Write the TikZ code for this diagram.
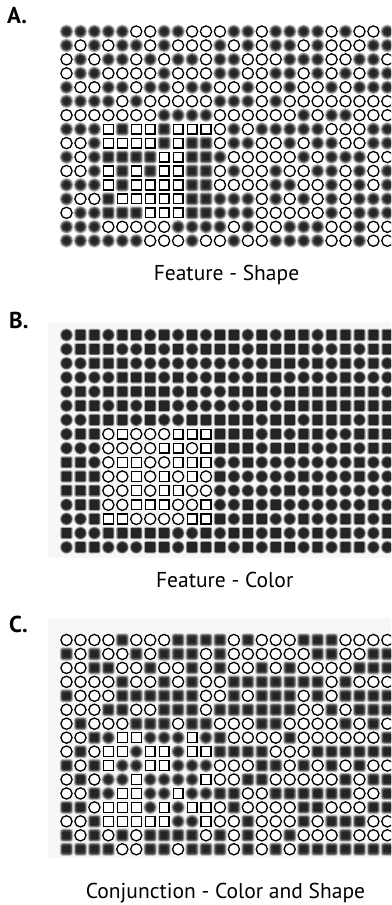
\documentclass[tikz,border=0pt]{standalone}
\usepackage{fontspec}
\setmainfont{PT Sans}
\newcount\gcol
\def\gx{0}\def\gy{0}
\newcommand\gridrow[2]{\global\gcol=0 \pgfmathsetmacro\gy{#1}\gridcells#2\relax}
\def\gridcells#1{\ifx#1\relax\else\gridcell#1\global\advance\gcol by 1 \expandafter\gridcells\fi}
\newcommand\gridcell[1]{\pgfmathsetmacro\gx{66.5+13.95*\the\gcol}\csname gcell@#1\endcsname}
% white circle
\expandafter\def\csname gcell@o\endcsname{%
  \filldraw[wshape] (\gx,\gy) circle[radius=5.6];}
% white square
\expandafter\def\csname gcell@s\endcsname{%
  \filldraw[wshape] (\gx-4.9,\gy-4.9) rectangle (\gx+4.9,\gy+4.9);}
% blurred dark circle
\expandafter\def\csname gcell@c\endcsname{%
  \fill[black!14] (\gx,\gy) circle[radius=7.1];
  \fill[black!40] (\gx,\gy) circle[radius=6.3];
  \fill[black!65] (\gx,\gy) circle[radius=5.5];
  \fill[black!80] (\gx,\gy) circle[radius=4.5];
  \fill[black!86] (\gx,\gy) circle[radius=3.2];}
% blurred dark square
\expandafter\def\csname gcell@q\endcsname{%
  \fill[black!14,rounded corners=3] (\gx-6.9,\gy-6.9) rectangle (\gx+6.9,\gy+6.9);
  \fill[black!40,rounded corners=2.5] (\gx-6.1,\gy-6.1) rectangle (\gx+6.1,\gy+6.1);
  \fill[black!65,rounded corners=2] (\gx-5.3,\gy-5.3) rectangle (\gx+5.3,\gy+5.3);
  \fill[black!80,rounded corners=1.5] (\gx-4.4,\gy-4.4) rectangle (\gx+4.4,\gy+4.4);
  \fill[black!86] (\gx-3.2,\gy-3.2) rectangle (\gx+3.2,\gy+3.2);}
% sharper dark circle (panel B)
\expandafter\def\csname gcell@C\endcsname{%
  \fill[black!22] (\gx,\gy) circle[radius=6.6];
  \fill[black!60] (\gx,\gy) circle[radius=5.9];
  \fill[black!86] (\gx,\gy) circle[radius=5.1];}
% sharper dark square (panel B)
\expandafter\def\csname gcell@Q\endcsname{%
  \fill[black!22,rounded corners=2] (\gx-6.3,\gy-6.3) rectangle (\gx+6.3,\gy+6.3);
  \fill[black!60,rounded corners=1.5] (\gx-5.6,\gy-5.6) rectangle (\gx+5.6,\gy+5.6);
  \fill[black!86] (\gx-4.8,\gy-4.8) rectangle (\gx+4.8,\gy+4.8);}
\tikzset{
  wshape/.style={fill=white,draw=black,line width=1.3pt},
  panellabel/.style={anchor=base west,inner sep=0pt,font=\bfseries\fontsize{23}{23}\selectfont},
  caption/.style={anchor=base,inner sep=0pt,font=\fontsize{21.5}{22}\selectfont}
}
\begin{document}
\begin{tikzpicture}[x=1pt,y=-1pt]
\useasboundingbox (0,0) rectangle (391,905);
\clip (0,0) rectangle (391,905);
\fill[white] (0,0) rectangle (391,905);
\fill[black!3] (48,322) rectangle (391,558);
\fill[black!3] (48,618) rectangle (391,858);
% ---------- Panel A ----------
\node[panellabel] (la) at (7,23) {A.};
\gridrow{31.5+13.95*0}{ccccco occooo ccoccc cocooc}
\gridrow{31.5+13.95*1}{cococc ocoooc ococco cooocc}
\gridrow{31.5+13.95*2}{ococco coccoc cooocc coocco}
\gridrow{31.5+13.95*3}{occooo ocoooc coocco cococc}
\gridrow{31.5+13.95*4}{coocco ccocco ocooco ococcc}
\gridrow{31.5+13.95*5}{ccccoc oooooc ccocoo oooooo}
\gridrow{31.5+13.95*6}{oooooo occcco oooooc occooo}
\gridrow{31.5+13.95*7}{cccsqs sqssso cocccc cooocc}
\gridrow{31.5+13.95*8}{oocsss sqsqqo ccooco ccoocc}
\gridrow{31.5+13.95*9}{cocqqq qssqqc oooooc occcoo}
\gridrow{31.5+13.95*10}{oocsqs qssqqo coocoo ccococ}
\gridrow{31.5+13.95*11}{cccsqs sssqqo ooocco ocococ}
\gridrow{31.5+13.95*12}{cooqss sssqqc ccococ ococcc}
\gridrow{31.5+13.95*13}{occqqq sssqqc ccoooo ococcc}
\gridrow{31.5+13.95*14}{cccooo oocccc ocoocc coocoo}
\gridrow{31.5+13.95*15}{cccccc ooocoo cooccc coocoo}
\node[caption] (ca) at (226.5,280) {Feature - Shape};
% ---------- Panel B ----------
\node[panellabel] (lb) at (9,328) {B.};
\gridrow{335+14.15*0}{CQQCQQ CQCQCQ QCQCQQ CQQQQQ}
\gridrow{335+14.15*1}{CQQQCC QCQCQQ QCQQQQ CCQCQQ}
\gridrow{335+14.15*2}{CCQQQC CCCCCC CCCQQC QCQCQC}
\gridrow{335+14.15*3}{CCCCQQ QCQCCQ CCQQCC CCQCCC}
\gridrow{335+14.15*4}{CQCQQQ QQCQCC QQQCQQ QQQQQC}
\gridrow{335+14.15*5}{CQQCQC QQCCCC CCQCQQ QQQQQQ}
\gridrow{335+14.15*6}{CCQQQC QCCQQQ QQCQQC QQQCQQ}
\gridrow{335+14.15*7}{CQQoso oosssQ QQCQCQ QCCQQQ}
\gridrow{335+14.15*8}{CCCooo ossosQ QQCQQQ CCQCQQ}
\gridrow{335+14.15*9}{QQCoss oosssC CQCCCC CCCQCC}
\gridrow{335+14.15*10}{QQQoos ososoQ CCCCCQ CCCQCC}
\gridrow{335+14.15*11}{QQQoos ossooC CCCCQC QCCCCC}
\gridrow{335+14.15*12}{CQQoos ssoosC CQCQCC CCCCQC}
\gridrow{335+14.15*13}{CCQsso ooossQ CQQCCQ CCQQCQ}
\gridrow{335+14.15*14}{QCCQQQ QQCCQC QQCQCC QCQCCQ}
\gridrow{335+14.15*15}{CQQCCC QQCQQQ CQCQQC QCQQCC}
\node[caption] (cb) at (224.7,587) {Feature - Color};
% ---------- Panel C ----------
\node[panellabel] (lc) at (9,632) {C.};
\gridrow{640+13.95*0}{ooooqo ooqqqq oqoooq qqoooo}
\gridrow{640+13.95*1}{qoqooq oqqqoq oooooo qqooqq}
\gridrow{640+13.95*2}{ooqqoo qooqoq ooqoqo oooqqq}
\gridrow{640+13.95*3}{ooooqo oqoqoo qqqqqq qoqooo}
\gridrow{640+13.95*4}{qoooqq qqqqoo qoqqqo qoqqqq}
\gridrow{640+13.95*5}{oooqqo oqqqoq qqqqqo oqoqqq}
\gridrow{640+13.95*6}{oqoooq qqoqqo ooqqoo ooqoqo}
\gridrow{640+13.95*7}{ooqcss cccscq ooooqo oooooq}
\gridrow{640+13.95*8}{oqossc sscssq qqqooo qqqqqq}
\gridrow{640+13.95*9}{qoqscc ssccco ooqqoq oqoqoo}
\gridrow{640+13.95*10}{oqoccs ccccso oqqooo ooqoqq}
\gridrow{640+13.95*11}{ooqcss ccsccq qooqqq qqqooq}
\gridrow{640+13.95*12}{qqosss cscsso qooooq qoooqq}
\gridrow{640+13.95*13}{ooqsss ssccso oqoooq oqqqoo}
\gridrow{640+13.95*14}{qoqoqo qqqqoq oqooqo ooqooo}
\gridrow{640+13.95*15}{qqqqoo qqoqqq oqoqoq qqqqqq}
\node[caption] (cc) at (225.5,898) {Conjunction - Color and Shape};
\end{tikzpicture}
\end{document}
